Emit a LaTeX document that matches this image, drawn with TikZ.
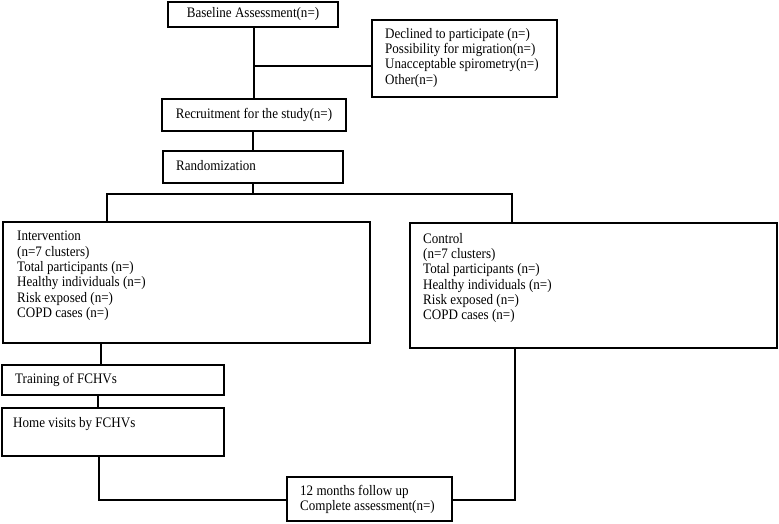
\documentclass[tikz,border=0pt]{standalone}
\usepackage{fontspec}
\setmainfont[FakeStretch=0.9]{Liberation Serif}
\begin{document}
\begin{tikzpicture}[x=1pt,y=-1pt,
  box/.style={draw, line width=1.8pt, inner sep=0pt, outer sep=0pt, anchor=north west,
    font=\fontsize{14.5}{15.3}\selectfont},
  txt/.style={font=\fontsize{14.5}{15.3}\selectfont, align=left, inner sep=0pt, anchor=north west},
  conn/.style={line width=1.8pt}]
\useasboundingbox (0,0) rectangle (779,523);

\node[box, minimum width=170pt, minimum height=25pt] (base) at (168,2) {Baseline Assessment(n=)};
\node[box, minimum width=185pt, minimum height=77pt,
  label={[txt, xshift=13pt, yshift=-8pt]north west:{Declined to participate (n=)\\Possibility for migration(n=)\\Unacceptable spirometry(n=)\\Other(n=)}}] (excl) at (372,20) {};
\node[box, minimum width=184pt, minimum height=32pt] (recr) at (162,99) {Recruitment for the study(n=)};
\node[box, minimum width=180pt, minimum height=32pt,
  label={[txt, anchor=west, xshift=13pt, yshift=1pt]west:{Randomization}}] (rand) at (163,151) {};
\node[box, minimum width=367pt, minimum height=121pt,
  label={[txt, xshift=14pt, yshift=-9pt]north west:{Intervention\\(n=7 clusters)\\Total participants (n=)\\Healthy individuals (n=)\\Risk exposed (n=)\\COPD cases (n=)}}] (iv) at (3,222) {};
\node[box, minimum width=367pt, minimum height=125pt,
  label={[txt, xshift=13pt, yshift=-10pt]north west:{Control\\(n=7 clusters)\\Total participants (n=)\\Healthy individuals (n=)\\Risk exposed (n=)\\COPD cases (n=)}}] (ctl) at (410,223) {};
\node[box, minimum width=222pt, minimum height=30pt,
  label={[txt, anchor=west, xshift=13pt, yshift=0pt]west:{Training of FCHVs}}] (train) at (2,365) {};
\node[box, minimum width=222pt, minimum height=48pt,
  label={[txt, xshift=11pt, yshift=-9pt]north west:{Home visits by FCHVs}}] (home) at (2,408) {};
\node[box, minimum width=165pt, minimum height=44pt,
  label={[txt, xshift=13pt, yshift=-8pt]north west:{12 months follow up\\Complete assessment(n=)}}] (fu) at (287,477) {};

\coordinate (j1) at (254,66);
\coordinate (j2) at (253,194);
\coordinate (jl) at (107,194);
\coordinate (jr) at (512,194);
\coordinate (bl) at (99,500);
\coordinate (br) at (515,500);

\draw[conn] (base.south -| j1) -- (recr.north -| j1);
\draw[conn] (j1) -- (j1 -| excl.west);
\draw[conn] (recr.south -| j2) -- (rand.north -| j2);
\draw[conn] (rand.south -| j2) -- (j2);
\draw[conn] (iv.north -| jl) -- (jl) -- (jr) -- (ctl.north -| jr);
\draw[conn] (iv.south -| 101,0) -- (train.north -| 101,0);
\draw[conn] (train.south -| 98,0) -- (home.north -| 98,0);
\draw[conn] (home.south -| bl) -- (bl) -- (bl -| fu.west);
\draw[conn] (ctl.south -| br) -- (br) -- (br -| fu.east);
\end{tikzpicture}
\end{document}
